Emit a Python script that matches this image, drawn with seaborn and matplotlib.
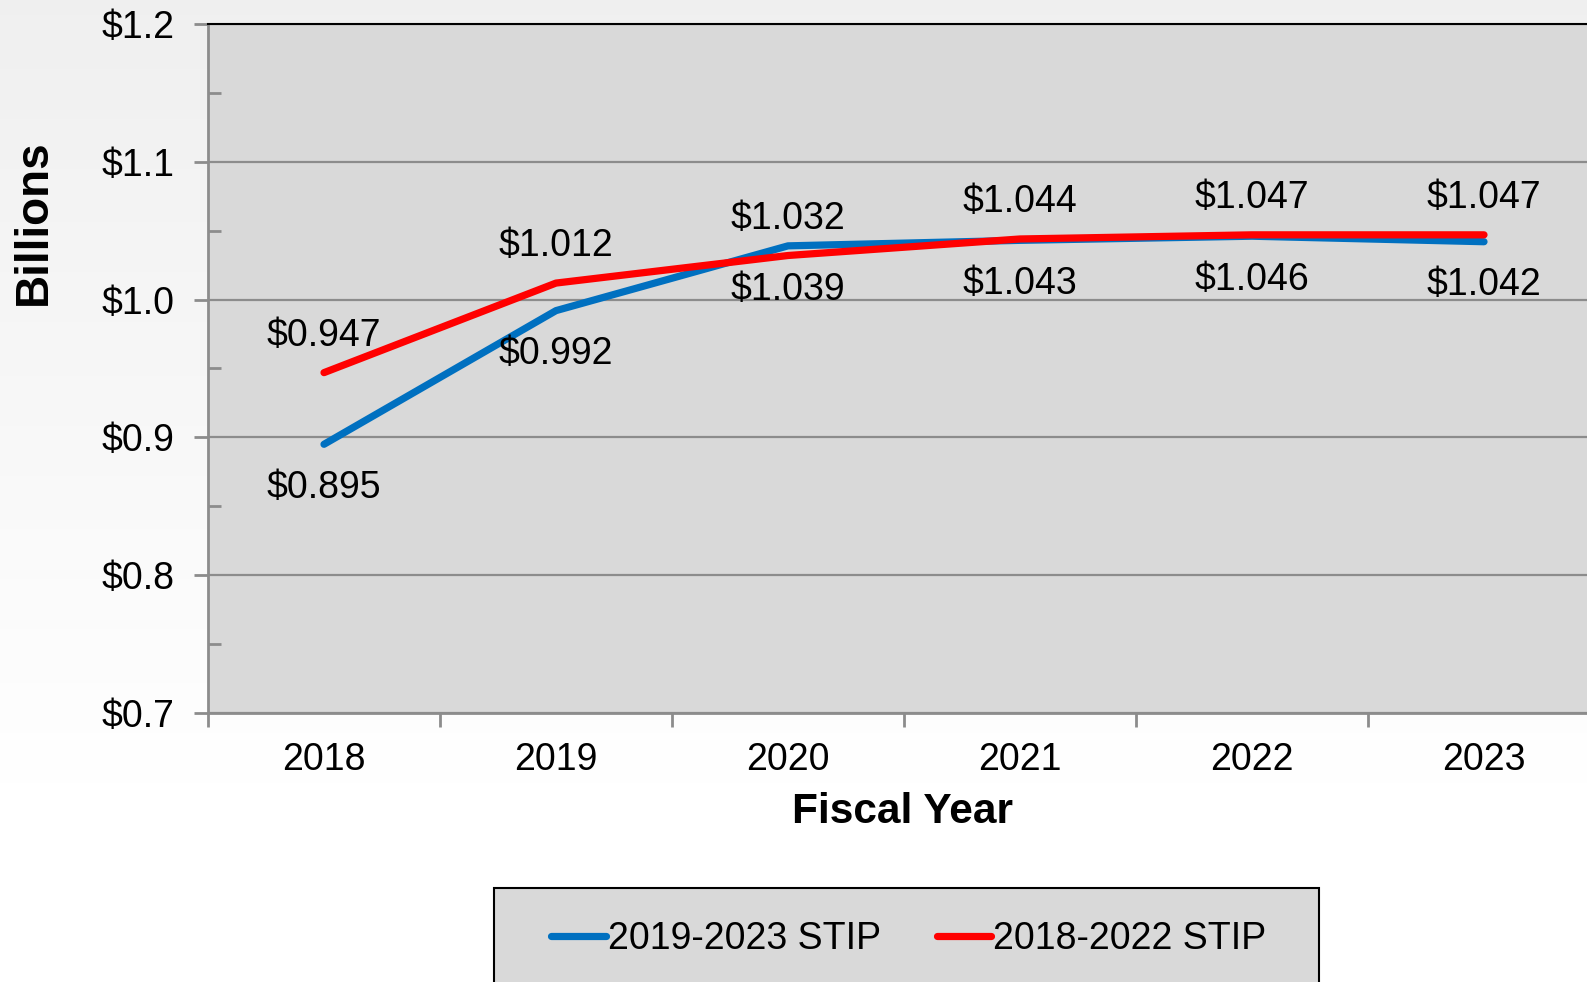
import numpy as np
import pandas as pd
import matplotlib
matplotlib.use('Agg')
import matplotlib.pyplot as plt
import seaborn as sns
from matplotlib.patches import Rectangle
from matplotlib.ticker import MultipleLocator, FixedLocator, NullFormatter

years = ['2018', '2019', '2020', '2021', '2022', '2023']
stip_2019_2023 = [0.895, 0.992, 1.039, 1.043, 1.046, 1.042]
stip_2018_2022 = [0.947, 1.012, 1.032, 1.044, 1.047, 1.047]
series_names = ['2019-2023 STIP', '2018-2022 STIP']
series_colors = ['#0070C0', '#FF0000']

def build_dataframe():
    # long format for seaborn
    rows = []
    for name, vals in zip(series_names, [stip_2019_2023, stip_2018_2022]):
        for i, (y, v) in enumerate(zip(years, vals)):
            rows.append({'pos': i, 'year': y, 'value': v, 'series': name})
    return pd.DataFrame(rows)

def create_chart(df):
    sns.set_style('white')
    plt.rcParams['font.family'] = ['Liberation Sans', 'DejaVu Sans']
    plt.rcParams['text.color'] = 'black'
    plt.rcParams['xtick.labelcolor'] = 'black'
    plt.rcParams['ytick.labelcolor'] = 'black'

    W, H = 1587, 982
    fig = plt.figure(figsize=(W / 100, H / 100), dpi=100)

    # Hintergrund-Verlauf
    bg = fig.add_axes([0, 0, 1, 1], zorder=-10)
    grad = np.linspace(0, 1, 256).reshape(-1, 1)
    grad = np.clip(grad / 0.8, 0, 1)
    top = np.array([0.94, 0.94, 0.94])
    bottom = np.array([1.0, 1.0, 1.0])
    img = top + (bottom - top) * grad[:, :, None]
    bg.imshow(img, aspect='auto', extent=[0, 1, 0, 1])
    bg.axis('off')

    left, bottom_px, right_px, top_px = 208, 713, 1600, 24
    ax = fig.add_axes([left / W, 1 - bottom_px / H, (right_px - left) / W, (bottom_px - top_px) / H])
    ax.set_facecolor('#D9D9D9')

    sns.lineplot(data=df, x='pos', y='value', hue='series', hue_order=series_names,
                 palette=series_colors, linewidth=5.2, ax=ax, legend=False,
                 solid_capstyle='round')

    # Datenbeschriftungen
    for i, v in enumerate(stip_2018_2022):
        ax.annotate(f'${v:.3f}', (i, v), xytext=(0, 26.5), textcoords='offset points',
                    ha='center', va='center', fontsize=27, color='black')
    for i, v in enumerate(stip_2019_2023):
        ax.annotate(f'${v:.3f}', (i, v), xytext=(0, -31.5), textcoords='offset points',
                    ha='center', va='center', fontsize=27, color='black')

    ax.set_xlim(-0.5, 5.5)
    ax.set_ylim(0.7, 1.2)
    ax.yaxis.set_minor_locator(MultipleLocator(0.05))
    ax.set_yticks(np.arange(0.7, 1.21, 0.1))
    ax.set_yticklabels([f'${t:.1f}' for t in np.arange(0.7, 1.21, 0.1)])
    ax.tick_params(axis='y', which='major', direction='out', length=10, width=2,
                   color='#8C8C8C', labelsize=27, pad=14, left=True)
    ax.tick_params(axis='y', which='minor', direction='in', length=9, width=2,
                   color='#8C8C8C', left=True)

    ax.xaxis.set_major_locator(FixedLocator(np.arange(-0.5, 6, 1)))
    ax.xaxis.set_major_formatter(NullFormatter())
    ax.xaxis.set_minor_locator(FixedLocator(range(len(years))))
    ax.set_xticklabels(years, minor=True)
    ax.tick_params(axis='x', which='major', direction='out', length=10, width=2,
                   color='#8C8C8C', bottom=True)
    ax.tick_params(axis='x', which='minor', length=0, labelsize=27, pad=21)

    ax.grid(axis='y', which='major', color='#8C8C8C', linewidth=1.6)
    ax.set_axisbelow(True)
    for side in ['left', 'bottom']:
        ax.spines[side].set_color('#8C8C8C')
        ax.spines[side].set_linewidth(2)
    ax.spines['top'].set_color('black')
    ax.spines['top'].set_linewidth(1.5)
    ax.spines['right'].set_visible(False)

    ax.set_xlabel('')
    ax.set_ylabel('')
    fig.text(903 / W, 1 - 812 / H, 'Fiscal Year', ha='center', va='center',
             fontsize=30.5, fontweight='bold')
    fig.text(34 / W, 1 - 222 / H, 'Billions', ha='center', va='center',
             rotation=90, fontsize=33, fontweight='bold')

    # Legendenkasten
    fig.patches.append(Rectangle((494 / W, -0.02), (1319 - 494) / W, 0.02 + (982 - 888) / H,
                                 transform=fig.transFigure, facecolor='#D9D9D9',
                                 edgecolor='black', linewidth=1.5, zorder=5))
    handles = [plt.Line2D([], [], color=c, linewidth=5.2, solid_capstyle='round')
               for c in series_colors]
    fig.legend(handles, series_names, loc='center', bbox_to_anchor=(909 / W, 1 - 939 / H),
               ncol=2, frameon=False, fontsize=27, handlelength=1.45, handletextpad=0.05,
               columnspacing=1.5)

    plt.savefig('out.png', dpi=100)

if __name__ == '__main__':
    df = build_dataframe()
    create_chart(df)
